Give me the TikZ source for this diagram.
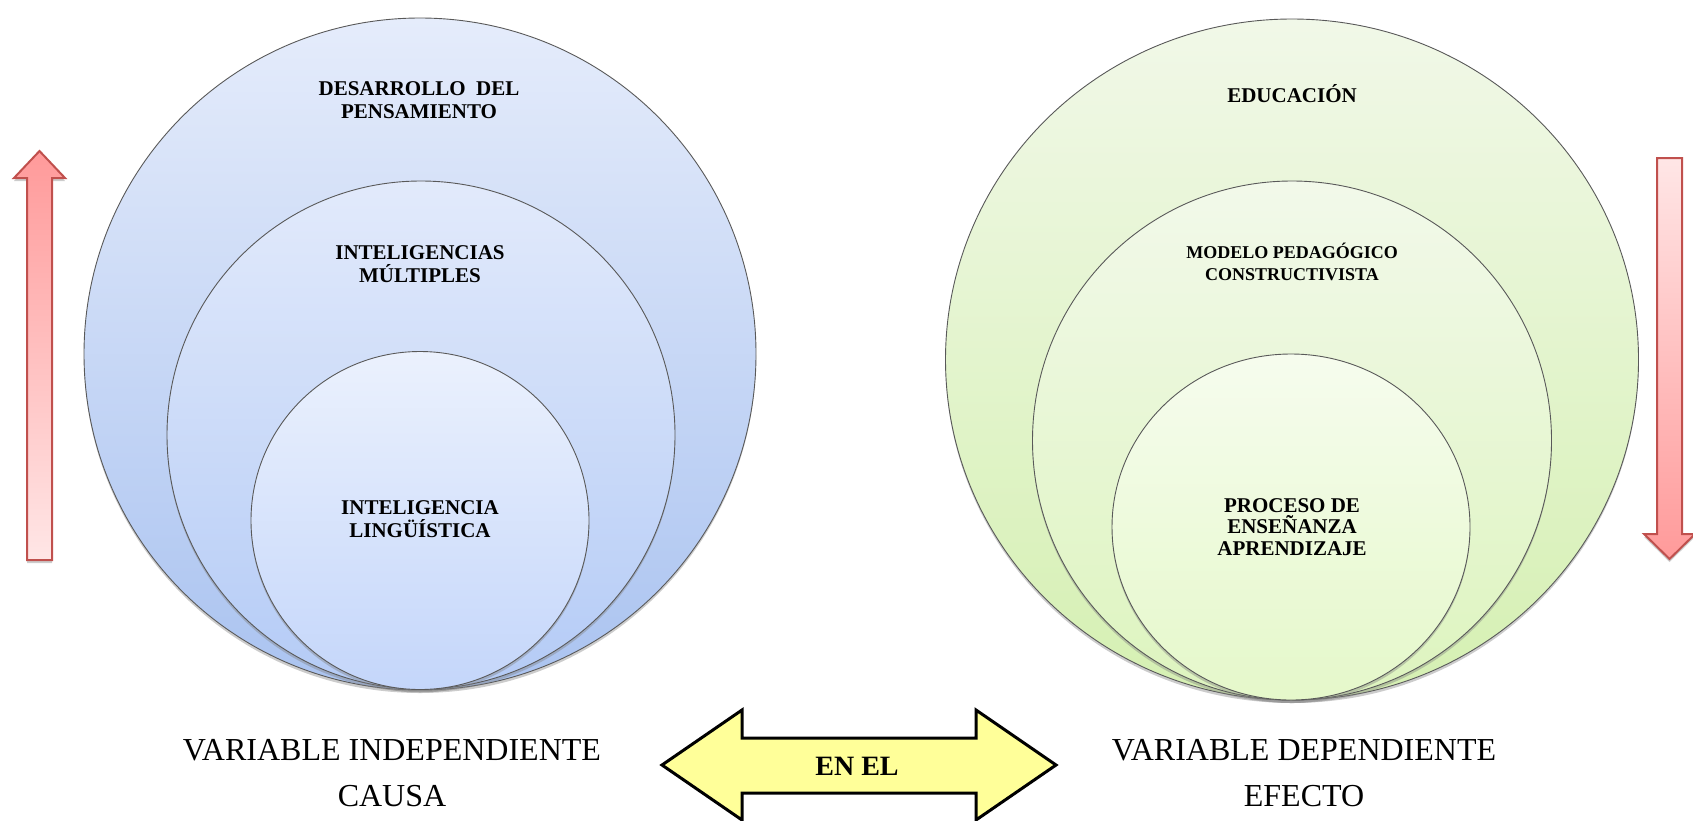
\documentclass[tikz,border=0pt]{standalone}
\usepackage{fontspec}
\setmainfont{Liberation Serif}
\usetikzlibrary{positioning,shapes,shadows}

\definecolor{bordeflecha}{RGB}{192,80,77}
\definecolor{rojofuerte}{RGB}{255,154,154}
\definecolor{rojosuave}{RGB}{255,230,230}
\definecolor{amarillo}{RGB}{255,255,153}

\begin{document}
\begin{tikzpicture}[x=1pt,y=-1pt]
\tikzstyle{every node}+=[inner sep=0pt]
\tikzstyle{sombra}=[drop shadow={opacity=0.4,shadow xshift=0pt,shadow yshift=-3pt}]
\tikzstyle{aro}=[draw=black!65,line width=0.9pt,sombra]
\tikzstyle{azul1}=[aro,circle,top color={rgb,255:red,229;green,236;blue,251},bottom color={rgb,255:red,170;green,195;blue,240}]
\tikzstyle{azul2}=[aro,circle,top color={rgb,255:red,226;green,234;blue,251},bottom color={rgb,255:red,180;green,203;blue,246}]
\tikzstyle{azul3}=[aro,circle,top color={rgb,255:red,235;green,241;blue,253},bottom color={rgb,255:red,196;green,214;blue,250}]
\tikzstyle{verde1}=[aro,ellipse,top color={rgb,255:red,241;green,248;blue,232},bottom color={rgb,255:red,213;green,240;blue,178}]
\tikzstyle{verde2}=[aro,circle,top color={rgb,255:red,242;green,249;blue,234},bottom color={rgb,255:red,221;green,244;blue,190}]
\tikzstyle{verde3}=[aro,ellipse,top color={rgb,255:red,246;green,252;blue,238},bottom color={rgb,255:red,229;green,248;blue,202}]
\tikzstyle{rotulo}=[font=\bfseries\fontsize{21}{23.5}\selectfont,align=center]
\tikzstyle{etiqueta}=[font=\fontsize{32}{46}\selectfont,align=center]
\tikzstyle{flecharoja}=[draw=bordeflecha,line width=2pt,line join=miter,sombra]
\useasboundingbox (0,0) rectangle (1693,820);

\draw [flecharoja,top color=rojofuerte,bottom color=rojosuave] (39.5,151) -- (65,178) -- (52,178) -- (52,560) -- (27,560) -- (27,178) -- (14,178) -- cycle;
\draw [flecharoja,top color=rojosuave,bottom color=rojofuerte] (1657,158) -- (1682,158) -- (1682,534) -- (1695,534) -- (1669.5,559) -- (1644,534) -- (1657,534) -- cycle;

\node [azul1,minimum size=672pt] (desarrollo) at (420,354) {};
\node [azul2,minimum size=508pt] (multiples) at (421,435) {};
\node [azul3,minimum size=338pt] (linguistica) at (420,520.5) {};
\node [verde1,minimum width=693pt,minimum height=681pt] (educacion) at (1292,359.5) {};
\node [verde2,minimum size=519pt] (modelo) at (1292,440.5) {};
\node [verde3,minimum width=358pt,minimum height=346pt] (proceso) at (1291,527) {};

\node [rotulo] (tdesarrollo) at (419,100) {DESARROLLO\ \ DEL\\PENSAMIENTO};
\node [rotulo] (tmultiples) at (420,264) {INTELIGENCIAS\\MÚLTIPLES};
\node [rotulo] (tlinguistica) at (420,519) {INTELIGENCIA\\LINGÜÍSTICA};
\node [rotulo,anchor=base] (teducacion) at (1292,102) {EDUCACIÓN};
\node [rotulo,font=\bfseries\fontsize{18}{21.5}\selectfont] (tmodelo) at (1292,262) {MODELO PEDAGÓGICO\\CONSTRUCTIVISTA};
\node [rotulo,font=\bfseries\fontsize{21}{21.6}\selectfont] (tproceso) at (1292,527) {PROCESO DE\\ENSEÑANZA\\APRENDIZAJE};

\draw [draw=black,line width=3pt,line join=miter,fill=amarillo] (662,765) -- (742,710) -- (742,738) -- (976,738) -- (976,710) -- (1056,765) -- (976,820) -- (976,793) -- (742,793) -- (742,820) -- cycle;
\node [font=\bfseries\fontsize{28}{30}\selectfont] (enel) at (857,766) {EN EL};

\node [etiqueta] (vindependiente) at (392,773) {VARIABLE INDEPENDIENTE\\CAUSA};
\node [etiqueta] (vdependiente) at (1304,773) {VARIABLE DEPENDIENTE\\EFECTO};
\end{tikzpicture}
\end{document}
